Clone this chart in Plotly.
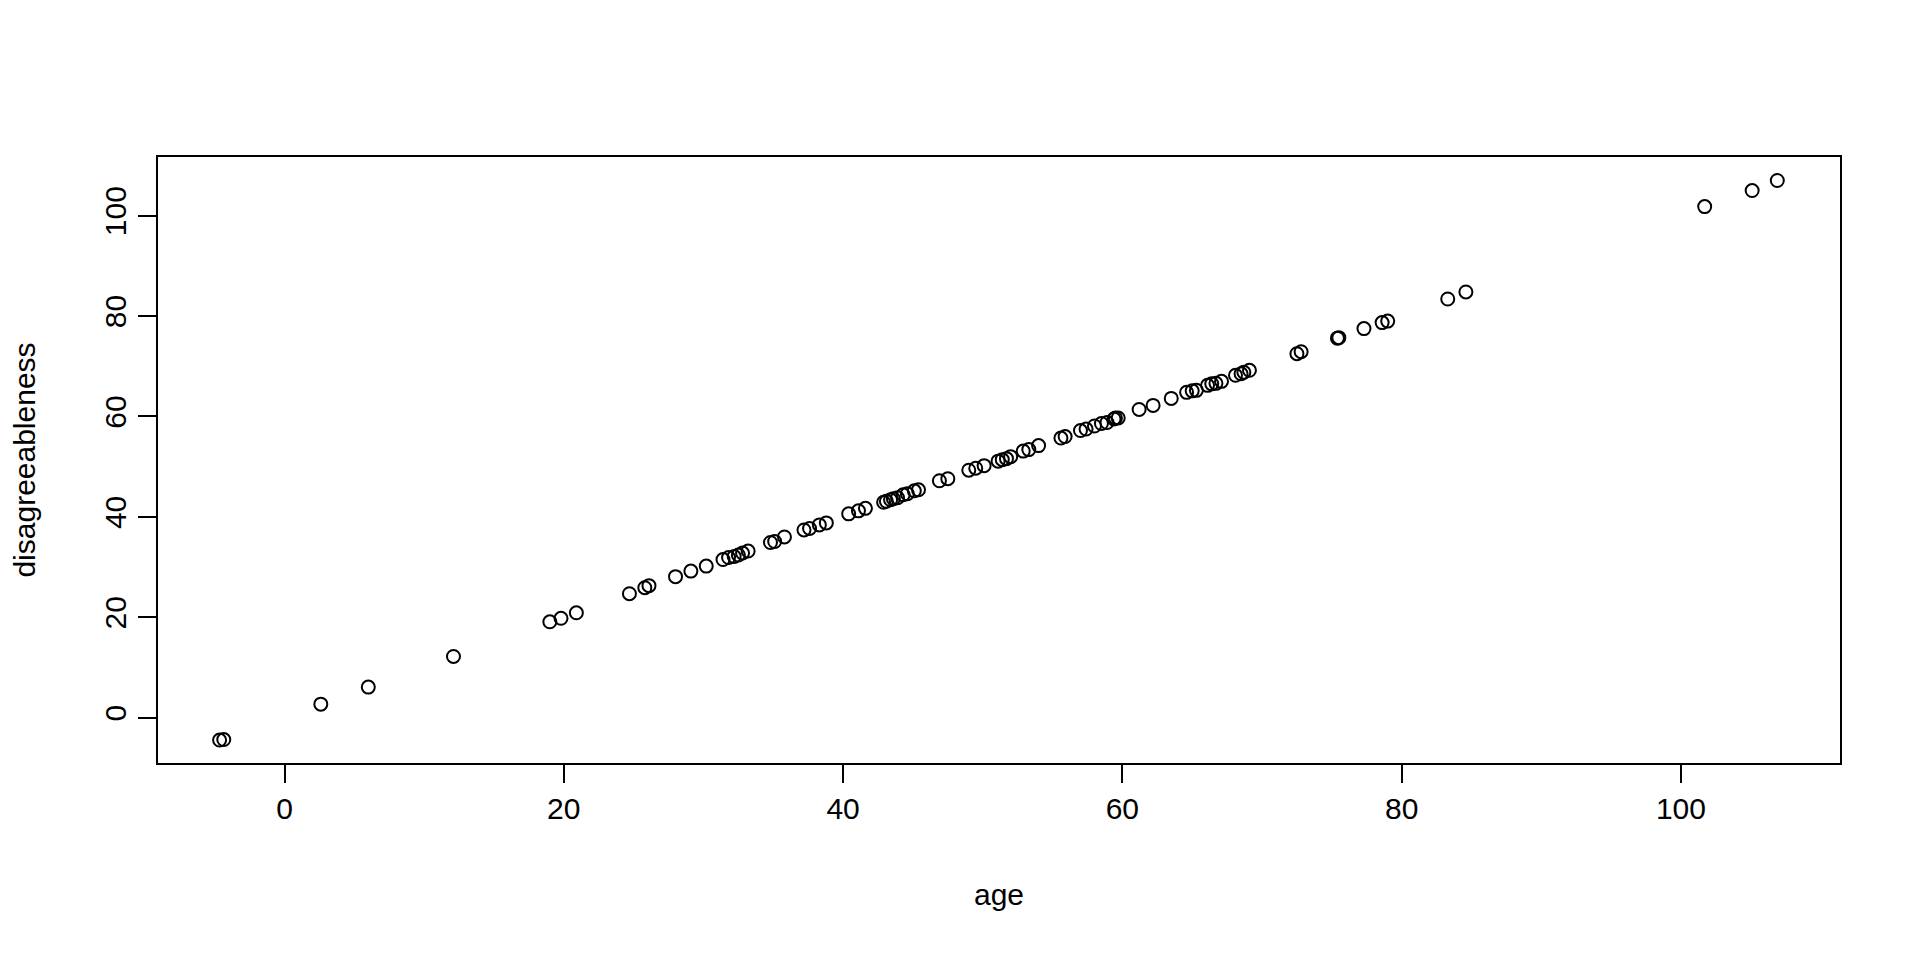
import plotly.graph_objects as go

age = [-4.65, -4.35, 2.6, 6.0, 12.1, 19.0, 19.8, 20.9, 24.7, 25.8, 26.1, 28.0, 29.1, 30.2,
       31.4, 31.8, 32.2, 32.5, 32.8, 33.2, 34.8, 35.1, 35.8, 37.2, 37.6, 38.3, 38.8,
       40.4, 41.1, 41.6, 42.9, 43.1, 43.4, 43.6, 43.9, 44.3, 44.6, 45.1, 45.4, 46.9, 47.5,
       49.0, 49.5, 50.1, 51.1, 51.4, 51.7, 52.0, 52.9, 53.3, 54.0, 55.6, 55.9,
       57.0, 57.4, 58.0, 58.5, 58.9, 59.4, 59.5, 59.7, 61.2, 62.2, 63.5,
       64.6, 65.0, 65.3, 66.1, 66.4, 66.7, 67.1, 68.1, 68.5, 68.7, 69.1,
       72.5, 72.8, 75.4, 75.5, 77.3, 78.6, 79.0, 83.3, 84.6, 101.7, 105.1, 106.9]

disagreeableness = [-4.45, -4.35, 2.7, 6.1, 12.2, 19.1, 19.8, 20.9, 24.7, 25.9, 26.3, 28.1, 29.2, 30.2,
                    31.5, 31.9, 32.1, 32.4, 32.8, 33.2, 34.9, 35.1, 36.0, 37.4, 37.7, 38.4, 38.8,
                    40.6, 41.2, 41.7, 42.9, 43.1, 43.4, 43.6, 43.8, 44.4, 44.6, 45.2, 45.4, 47.2, 47.6,
                    49.3, 49.7, 50.2, 51.1, 51.4, 51.6, 52.0, 53.1, 53.4, 54.2, 55.7, 56.0,
                    57.2, 57.5, 58.1, 58.6, 58.8, 59.5, 59.7, 59.7, 61.4, 62.2, 63.6,
                    64.8, 65.1, 65.2, 66.2, 66.5, 66.6, 67.0, 68.2, 68.5, 68.8, 69.2,
                    72.5, 72.9, 75.6, 75.7, 77.5, 78.7, 79.0, 83.4, 84.8, 101.8, 105.0, 107.0]

tick_vals = [0, 20, 40, 60, 80, 100]
tick_text = ["0", "20", "40", "60", "80", "100"]

FONT = "Liberation Sans, Arial, sans-serif"

fig = go.Figure()
fig.add_trace(go.Scatter(
    x=age, y=disagreeableness, mode="markers",
    marker=dict(symbol="circle-open", size=13, color="black", line=dict(width=2, color="black")),
    showlegend=False, hoverinfo="x+y",
))

axis_common = dict(
    showgrid=False, zeroline=False, showline=True, linecolor="black", linewidth=2,
    mirror=True, ticks="outside", ticklen=18, tickwidth=1.5, tickcolor="black",
    tickvals=tick_vals, ticktext=tick_text,
    tickfont=dict(family=FONT, size=30, color="black"),
)

fig.update_layout(
    width=1920, height=960,
    paper_bgcolor="white", plot_bgcolor="white",
    margin=dict(l=150, r=88, t=149, b=205, autoexpand=False),
    font=dict(family=FONT, size=30, color="black"),
    xaxis=dict(range=[-9.06, 111.39], title=dict(text="age", font=dict(family=FONT, size=30), standoff=60),
               **axis_common),
    yaxis=dict(range=[-9.02, 111.68], tickangle=-90,
               title=dict(text="disagreeableness", font=dict(family=FONT, size=30), standoff=58),
               **axis_common),
)

fig.write_html("out.html")
